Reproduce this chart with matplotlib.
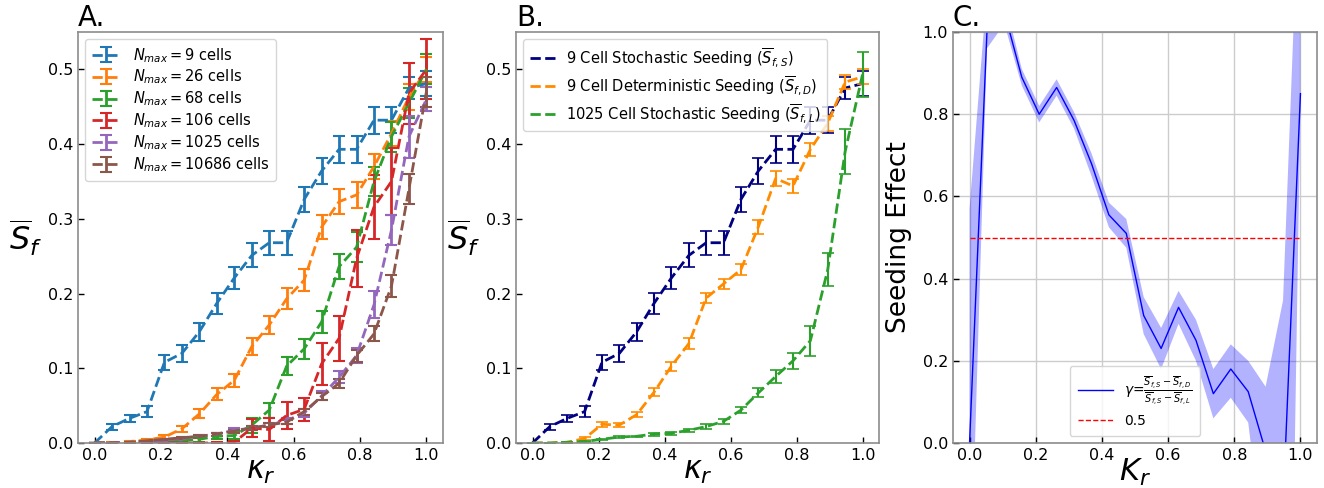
import numpy as np
import matplotlib
matplotlib.use('Agg')
import matplotlib.pyplot as plt

# ---------------- data ----------------
kappa = [0.0, 0.0526, 0.1053, 0.1579, 0.2105, 0.2632, 0.3158, 0.3684, 0.4211, 0.4737,
         0.5263, 0.5789, 0.6316, 0.6842, 0.7368, 0.7895, 0.8421, 0.8947, 0.9474, 1.0]

labels_A = [r'$N_{max}=9$ cells', r'$N_{max}=26$ cells', r'$N_{max}=68$ cells',
            r'$N_{max}=106$ cells', r'$N_{max}=1025$ cells', r'$N_{max}=10686$ cells']

s9 = [0.0, 0.022, 0.033, 0.042, 0.108, 0.120, 0.149, 0.187, 0.221, 0.251,
      0.268, 0.268, 0.326, 0.364, 0.393, 0.393, 0.432, 0.432, 0.475, 0.481]
e9 = [0.0, 0.004, 0.005, 0.007, 0.010, 0.011, 0.012, 0.014, 0.015, 0.016,
      0.016, 0.016, 0.017, 0.018, 0.018, 0.018, 0.018, 0.017, 0.015, 0.017]

s26 = [0.0, 0.0, 0.002, 0.004, 0.008, 0.019, 0.039, 0.065, 0.084, 0.129,
       0.158, 0.193, 0.218, 0.289, 0.323, 0.332, 0.370, 0.414, 0.463, 0.500]
e26 = [0.0, 0.001, 0.001, 0.002, 0.003, 0.004, 0.006, 0.008, 0.009, 0.011,
       0.012, 0.014, 0.015, 0.016, 0.017, 0.017, 0.017, 0.017, 0.017, 0.017]

s68 = [0.0, 0.0, 0.0, 0.001, 0.002, 0.003, 0.005, 0.009, 0.010, 0.024,
       0.044, 0.103, 0.126, 0.162, 0.236, 0.262, 0.350, 0.410, 0.455, 0.500]
e68 = [0.0, 0.0, 0.001, 0.001, 0.002, 0.002, 0.003, 0.004, 0.005, 0.010,
       0.010, 0.012, 0.013, 0.015, 0.017, 0.020, 0.020, 0.020, 0.020, 0.020]

s106 = [0.0, 0.0, 0.0, 0.0, 0.0, 0.0, 0.0, 0.0, 0.001, 0.020,
        0.018, 0.037, 0.045, 0.106, 0.140, 0.247, 0.316, 0.350, 0.468, 0.500]
e106 = [0.0, 0.0, 0.0, 0.0, 0.0, 0.0, 0.0, 0.001, 0.002, 0.012,
        0.015, 0.018, 0.015, 0.028, 0.030, 0.038, 0.043, 0.045, 0.041, 0.040]

s1025 = [0.0, 0.0, 0.001, 0.002, 0.004, 0.006, 0.009, 0.012, 0.017, 0.020,
         0.024, 0.030, 0.040, 0.063, 0.088, 0.117, 0.185, 0.285, 0.410, 0.460]
e1025 = [0.0, 0.0, 0.001, 0.001, 0.001, 0.002, 0.002, 0.002, 0.003, 0.003,
         0.003, 0.004, 0.005, 0.006, 0.008, 0.010, 0.018, 0.020, 0.028, 0.016]

s10686 = [0.0, 0.0, 0.001, 0.003, 0.005, 0.007, 0.009, 0.012, 0.016, 0.020,
          0.024, 0.028, 0.042, 0.062, 0.080, 0.117, 0.146, 0.210, 0.340, 0.470]
e10686 = [0.0, 0.0, 0.001, 0.001, 0.001, 0.001, 0.002, 0.002, 0.002, 0.003,
          0.003, 0.003, 0.004, 0.005, 0.006, 0.008, 0.010, 0.015, 0.020, 0.020]

series_A = [s9, s26, s68, s106, s1025, s10686]
errors_A = [e9, e26, e68, e106, e1025, e10686]
colors_A = ['tab:blue', 'tab:orange', 'tab:green', 'tab:red', 'tab:purple', 'tab:brown']

labels_B = [r'9 Cell Stochastic Seeding ($\overline{S}_{f,S}$)',
            r'9 Cell Deterministic Seeding ($\overline{S}_{f,D}$)',
            r'1025 Cell Stochastic Seeding ($\overline{S}_{f,L}$)']
sB_stoch9 = s9
eB_stoch9 = e9
sB_det9 = [0.0, 0.0, 0.001, 0.006, 0.025, 0.024, 0.038, 0.068, 0.103, 0.133,
           0.194, 0.213, 0.232, 0.289, 0.354, 0.344, 0.393, 0.428, 0.483, 0.490]
eB_det9 = [0.0, 0.0, 0.001, 0.002, 0.003, 0.003, 0.003, 0.005, 0.006, 0.007,
           0.007, 0.007, 0.007, 0.009, 0.010, 0.009, 0.009, 0.010, 0.009, 0.010]
sB_stoch1025 = [0.0, 0.0, 0.001, 0.002, 0.005, 0.008, 0.009, 0.012, 0.013, 0.017,
                0.022, 0.029, 0.044, 0.067, 0.089, 0.110, 0.137, 0.232, 0.390, 0.493]
eB_stoch1025 = [0.0, 0.0, 0.001, 0.001, 0.001, 0.001, 0.001, 0.002, 0.002, 0.002,
                0.003, 0.003, 0.004, 0.006, 0.009, 0.011, 0.020, 0.022, 0.030, 0.030]
series_B = [sB_stoch9, sB_det9, sB_stoch1025]
errors_B = [eB_stoch9, eB_det9, eB_stoch1025]
colors_B = ['navy', 'darkorange', 'tab:green']

gamma = [0.0, 1.0, 1.048, 0.89, 0.80, 0.865, 0.785, 0.68, 0.555, 0.51,
         0.31, 0.23, 0.33, 0.25, 0.12, 0.18, 0.125, -0.02, -0.15, 0.85]
gamma_lo = [-0.44, 0.96, 1.02, 0.87, 0.78, 0.845, 0.765, 0.65, 0.525, 0.475,
            0.265, 0.18, 0.29, 0.20, 0.06, 0.11, 0.05, -0.30, -1.76, 0.83]
gamma_hi = [0.57, 1.10, 1.08, 0.91, 0.82, 0.885, 0.805, 0.705, 0.585, 0.545,
            0.355, 0.28, 0.37, 0.30, 0.18, 0.24, 0.20, 0.137, 0.347, 1.45]
threshold = 0.5
gamma_label = (r'$\gamma$=$\frac{\overline{S}_{f,S}-\overline{S}_{f,D}}'
               r'{\overline{S}_{f,S}-\overline{S}_{f,L}}$')

# ---------------- figure ----------------
W, H = 1324, 488
fig = plt.figure(figsize=(W / 100, H / 100), dpi=100)

def rect(l, r, t, b):
    return [l / W, (H - b) / H, (r - l) / W, (b - t) / H]

axA = fig.add_axes(rect(78, 443, 32, 443))
axB = fig.add_axes(rect(516, 879, 32, 443))
axC = fig.add_axes(rect(953, 1317, 32, 443))

def style(ax):
    for s in ax.spines.values():
        s.set_color('#8c8c8c')
        s.set_linewidth(1.2)
    ax.tick_params(direction='in', labelsize=11.5, length=4, width=1)
    ax.set_xticks([0.0, 0.2, 0.4, 0.6, 0.8, 1.0])

# Panel A
for y, e, c, lab in zip(series_A, errors_A, colors_A, labels_A):
    axA.errorbar(kappa, y, yerr=e, color=c, ls='--', lw=2, elinewidth=2,
                 capsize=4, capthick=1.5, label=lab)
axA.set_xlim(-0.05, 1.05)
axA.set_ylim(0, 0.55)
axA.set_xlabel(r'$\kappa_r$', fontsize=22, labelpad=-4)
axA.set_ylabel(r'$\overline{S}_f$', fontsize=23, rotation=0, labelpad=16, va='center')
axA.legend(loc='upper left', fontsize=10.5, handlelength=2.0, labelspacing=0.22,
           borderpad=0.45)
axA.set_title('A.', loc='left', fontsize=20, pad=2)
style(axA)

# Panel B
for y, e, c, lab in zip(series_B, errors_B, colors_B, labels_B):
    axB.plot(kappa, y, color=c, ls='--', lw=2, label=lab)
    axB.errorbar(kappa, y, yerr=e, color=c, ls='none', elinewidth=1.5,
                 capsize=4, capthick=1.2)
axB.set_xlim(-0.05, 1.05)
axB.set_ylim(0, 0.55)
axB.set_xlabel(r'$\kappa_r$', fontsize=22, labelpad=-4)
axB.set_ylabel(r'$\overline{S}_f$', fontsize=23, rotation=0, labelpad=16, va='center')
axB.legend(loc='upper left', fontsize=10.5, handlelength=1.7, labelspacing=0.35,
           borderpad=0.45)
axB.set_title('B.', loc='left', fontsize=20, pad=2)
style(axB)

# Panel C
axC.grid(True, color='#cccccc', lw=1)
axC.set_axisbelow(True)
axC.fill_between(kappa, gamma_lo, gamma_hi, color='blue', alpha=0.3, lw=0)
axC.plot(kappa, gamma, color='blue', lw=1, label=gamma_label)
axC.plot([kappa[0], kappa[-1]], [threshold, threshold], color='red', ls='--', lw=1,
         label='0.5')
axC.set_xlim(-0.05, 1.05)
axC.set_ylim(0, 1.0)
axC.set_xlabel(r'$K_r$', fontsize=22, labelpad=-4)
axC.set_ylabel('Seeding Effect', fontsize=19, labelpad=8)
axC.legend(loc='lower center', fontsize=10, handlelength=2.5, borderpad=0.6)
axC.set_title('C.', loc='left', fontsize=20, pad=2)
style(axC)

fig.savefig('out.png', dpi=100)
